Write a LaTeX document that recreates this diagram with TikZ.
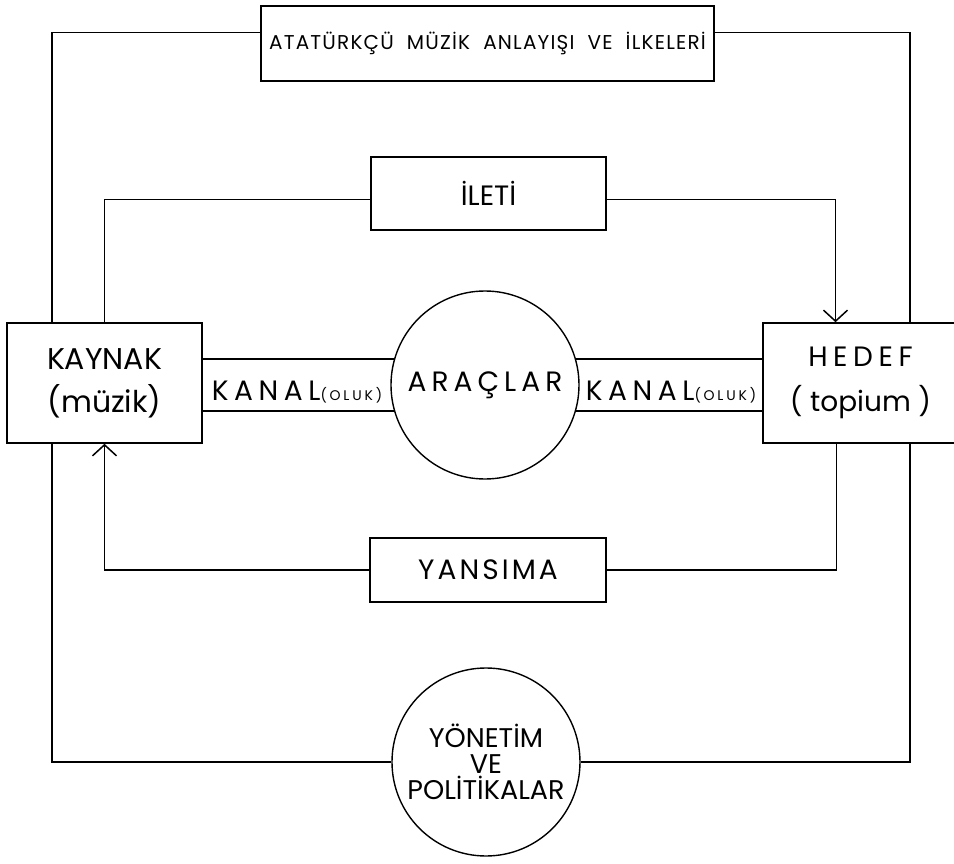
\documentclass[tikz,border=0pt]{standalone}
\usepackage{fontspec}
\setmainfont{Poppins}
\usetikzlibrary{arrows.meta,backgrounds}

\begin{document}
\begin{tikzpicture}[x=1pt, y=-1pt,
    box/.style={draw, fill=white, line width=1.6pt, inner sep=0pt},
    disc/.style={circle, draw, fill=white, line width=1.4pt, minimum size=188pt, inner sep=0pt, align=center},
    link/.style={line width=1.5pt},
    arrow/.style={link, -{Straight Barb[length=11pt, width=24pt]}},
    caption/.style={font=\fontsize{28}{30}\selectfont\addfontfeature{LetterSpace=#1}},
    caption/.default=0,
]
\useasboundingbox (0,0) rectangle (954,864);
\clip (0,0) rectangle (954,864);

% Blocks
\node[box, minimum width=453pt, minimum height=75pt, font=\fontsize{20}{24}\selectfont\addfontfeature{LetterSpace=6}] (atat) at (487.5,43.5) {ATATÜRKÇÜ\ \ MÜZİK\ \ ANLAYIŞI\ \ VE\ \ İLKELERİ};
\node[box, minimum width=235pt, minimum height=73pt, font=\fontsize{28}{30}\selectfont] (ileti) at (488.5,193.5) {İLETİ};
\node[box, minimum width=195pt, minimum height=120pt, align=center, font=\fontsize{30}{43}\selectfont] (kaynak) at (104.5,383) {KAYNAK\\(müzik)};
\node[box, minimum width=195pt, minimum height=120pt, align=center, font=\fontsize{28}{45}\selectfont] (hedef) at (860.5,383) {{\addfontfeature{LetterSpace=20}HEDEF}\\( topium )};
\node[disc, caption=18] (araclar) at (485,385) {ARAÇLAR};
\node[box, minimum width=236pt, minimum height=64pt, caption=11] (yansima) at (488,570) {YANSIMA};
\node[disc, font=\fontsize{27}{26}\selectfont] (yonetim) at (486,762) {YÖNETİM\\VE\\POLİTİKALAR};

% Channel labels
\node[caption=20] (kanal1) at (297,392) {KANAL{\fontsize{14}{14}\selectfont(OLUK)}};
\node[caption=20] (kanal2) at (671,392) {KANAL{\fontsize{14}{14}\selectfont(OLUK)}};

\coordinate (lft) at (52,400);
\coordinate (rgt) at (910,400);

\begin{scope}[on background layer]
% Outer loop
\draw[link] ([yshift=11pt]atat.west) -| (lft) |- (yonetim);
\draw[link] ([yshift=11pt]atat.east) -| (rgt) |- (yonetim);

% Message and feedback
\draw[link] ([yshift=-6pt]ileti.west) -| (kaynak.north);
\draw[arrow] ([yshift=-6pt]ileti.east) -| ([xshift=-25pt]hedef.north);
\draw[link] ([xshift=-24pt]hedef.south) |- (yansima.east);
\draw[arrow] (yansima.west) -| (kaynak.south);

% Channels
\foreach \a in {164,196} \draw[link] (araclar.\a) -- (araclar.\a -| kaynak.east);
\foreach \a in {16,-16} \draw[link] (araclar.\a) -- (araclar.\a -| hedef.west);
\end{scope}

\end{tikzpicture}
\end{document}
